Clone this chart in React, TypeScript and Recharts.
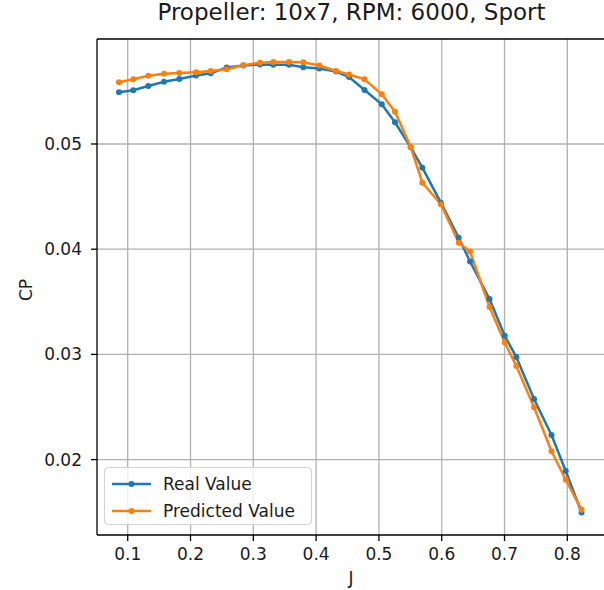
import React from 'react';
import { LineChart, Line, XAxis, YAxis, CartesianGrid, Legend, ReferenceLine } from 'recharts';

const J = [
  0.0861, 0.1089, 0.1328, 0.1578, 0.1822, 0.2088, 0.2322, 0.2576, 0.2841, 0.3107,
  0.3318, 0.3568, 0.3796, 0.4051, 0.4317, 0.4524, 0.4771, 0.5045, 0.5256, 0.5506,
  0.5691, 0.5986, 0.6271, 0.6451, 0.6761, 0.7003, 0.7188, 0.7470, 0.7748, 0.7975,
  0.8226,
];
const realCP = [
  0.05492, 0.05511, 0.05552, 0.05592, 0.05617, 0.05651, 0.05672, 0.05727, 0.05746, 0.05756,
  0.05754, 0.05754, 0.05729, 0.05718, 0.05689, 0.05637, 0.05513, 0.05377, 0.05206, 0.04969,
  0.04775, 0.04442, 0.04109, 0.03883, 0.03527, 0.03177, 0.02975, 0.02576, 0.02234, 0.01892,
  0.01497,
];
const predCP = [
  0.05587, 0.05615, 0.05649, 0.05667, 0.05674, 0.05683, 0.05694, 0.05711, 0.05748, 0.05773,
  0.05780, 0.05780, 0.05777, 0.05746, 0.05694, 0.05661, 0.05615, 0.05472, 0.05307, 0.04971,
  0.04632, 0.04428, 0.04062, 0.03978, 0.03451, 0.03113, 0.02890, 0.02497, 0.02079, 0.01809,
  0.01524,
];
const xTicks = [0.1, 0.2, 0.3, 0.4, 0.5, 0.6, 0.7, 0.8];
const yTicks = [0.02, 0.03, 0.04, 0.05];
const seriesNames = ['Real Value', 'Predicted Value'];
const title = 'Propeller: 10x7, RPM: 6000, Sport';

const X_DOMAIN: [number, number] = [0.0511, 0.8616];
const Y_DOMAIN: [number, number] = [0.012833, 0.059981];

const data = J.map((j, i) => ({ J: j, real: realCP[i], pred: predCP[i] }));

const FONT = '"DejaVu Sans", sans-serif';
const BLUE = '#1f77b4';
const ORANGE = '#ff7f0e';

const LegendBox = (props: any) => {
  const payload = props.payload || [];
  const items = seriesNames
    .map((n) => payload.find((p: any) => p.value === n))
    .filter(Boolean);
  return (
    <div
      style={{
        width: 206,
        height: 56,
        border: '1px solid #d0d0d0',
        borderRadius: 4,
        background: 'rgba(255,255,255,0.8)',
        fontFamily: FONT,
        fontSize: 17,
        color: '#1a1a1a',
        position: 'relative',
      }}
    >
      {items.map((it: any, i: number) => (
        <div
          key={i}
          style={{ position: 'absolute', left: 0, top: 2 + i * 27, height: 27, display: 'flex', alignItems: 'center' }}
        >
          <svg width={50} height={10} style={{ marginLeft: 7 }}>
            <line x1={0} y1={5} x2={39} y2={5} stroke={it.color} strokeWidth={2.5} />
            <circle cx={19.5} cy={5} r={3} fill={it.color} />
          </svg>
          <span style={{ marginLeft: 1, whiteSpace: 'nowrap' }}>{it.value}</span>
        </div>
      ))}
    </div>
  );
};

export default function App() {
  return (
    <div style={{ position: 'absolute', left: 0, top: 0, width: 604, height: 590, overflow: 'hidden', background: '#fff' }}>
      <div
        style={{
          position: 'absolute', left: 0, top: 0, width: 703, textAlign: 'center',
          fontFamily: FONT, fontSize: 23, lineHeight: '25px', color: '#1a1a1a', whiteSpace: 'nowrap',
        }}
      >
        {title}
      </div>
      <div
        style={{
          position: 'absolute', left: 26, top: 290, transform: 'translate(-50%, -50%) rotate(-90deg)',
          fontFamily: FONT, fontSize: 17, color: '#1a1a1a', whiteSpace: 'nowrap',
        }}
      >
        CP
      </div>
      <div
        style={{
          position: 'absolute', left: 351, top: 578, transform: 'translate(-50%, -50%)',
          fontFamily: FONT, fontSize: 17, color: '#1a1a1a',
        }}
      >
        J
      </div>
      <LineChart
        width={620}
        height={590}
        data={data}
        margin={{ top: 39, right: 14, bottom: 0, left: 0 }}
        style={{ position: 'absolute', left: 0, top: 0 }}
      >
        <CartesianGrid stroke="#b0b0b0" strokeWidth={1.3} horizontalValues={yTicks} verticalValues={xTicks} />
        <XAxis
          dataKey="J"
          type="number"
          domain={X_DOMAIN}
          allowDataOverflow
          ticks={xTicks}
          tickFormatter={(v: number) => v.toFixed(1)}
          height={55}
          tickSize={6}
          tickMargin={7}
          axisLine={{ stroke: '#000', strokeWidth: 1.3 }}
          tickLine={{ stroke: '#000', strokeWidth: 1.3 }}
          tick={{ fill: '#1a1a1a', fontSize: 17, fontFamily: FONT }}
          interval={0}
        />
        <YAxis
          type="number"
          domain={Y_DOMAIN}
          allowDataOverflow
          ticks={yTicks}
          tickFormatter={(v: number) => v.toFixed(2)}
          width={97}
          tickSize={6}
          tickMargin={9}
          axisLine={{ stroke: '#000', strokeWidth: 1.3 }}
          tickLine={{ stroke: '#000', strokeWidth: 1.3 }}
          tick={{ fill: '#1a1a1a', fontSize: 17, fontFamily: FONT }}
          interval={0}
        />
        <ReferenceLine y={Y_DOMAIN[1]} stroke="#000" strokeWidth={1.3} ifOverflow="visible" />
        <Line
          dataKey="real"
          name={seriesNames[0]}
          stroke={BLUE}
          strokeWidth={2.5}
          dot={{ r: 3, fill: BLUE, stroke: BLUE, strokeWidth: 0 }}
          isAnimationActive={false}
        />
        <Line
          dataKey="pred"
          name={seriesNames[1]}
          stroke={ORANGE}
          strokeWidth={2.5}
          dot={{ r: 3, fill: ORANGE, stroke: ORANGE, strokeWidth: 0 }}
          isAnimationActive={false}
        />
        <Legend
          layout="vertical"
          align="center"
          verticalAlign="middle"
          content={<LegendBox />}
          wrapperStyle={{ position: 'absolute', left: 104, top: 467, width: 208, height: 58, margin: 0 }}
        />
      </LineChart>
    </div>
  );
}
